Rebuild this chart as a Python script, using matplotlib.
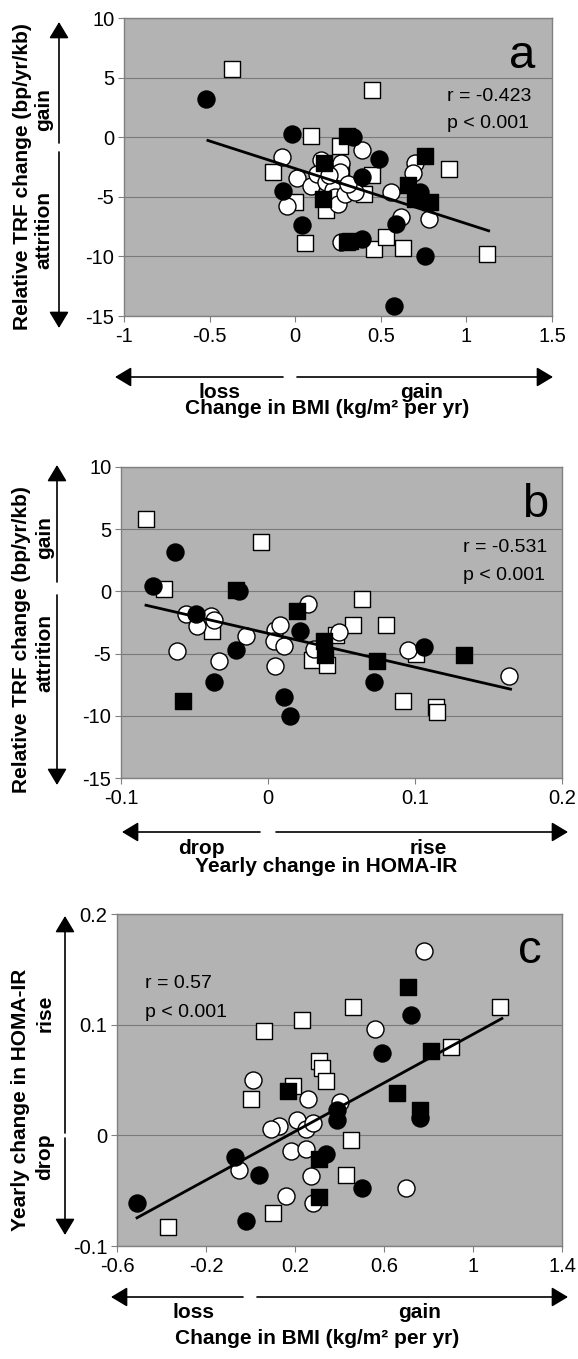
import matplotlib
matplotlib.use('Agg')
import matplotlib.pyplot as plt
from matplotlib.patches import FancyArrowPatch
from matplotlib.ticker import FuncFormatter

plt.rcParams['font.family'] = ['Liberation Sans', 'DejaVu Sans']
plt.rcParams['axes.unicode_minus'] = False

# ---------------- data ----------------
# Panel a: change in BMI (x) vs relative TRF change (y)
a_fc_x = [-0.52, -0.02, -0.07, 0.04, 0.34, 0.49, 0.39, 0.39, 0.59, 0.73, 0.76, 0.58]
a_fc_y = [3.2, 0.3, -4.5, -7.4, 0.0, -1.8, -3.3, -8.5, -7.3, -4.6, -10.0, -14.2]
a_fs_x = [0.30, 0.17, 0.16, 0.30, 0.32, 0.76, 0.66, 0.70, 0.79]
a_fs_y = [0.1, -2.2, -5.2, -8.8, -8.7, -1.6, -4.0, -5.2, -5.4]
a_os_x = [-0.37, 0.45, 0.09, -0.13, 0.26, 0.45, 0.90, 0.00, 0.18, 0.40, 0.06, 0.46, 0.53, 0.63, 1.12, 0.27]
a_os_y = [5.7, 4.0, 0.1, -2.9, -0.7, -3.2, -2.7, -5.4, -6.1, -4.8, -8.9, -9.4, -8.4, -9.3, -9.8, -2.8]
a_oc_x = [-0.08, 0.01, 0.09, -0.05, 0.15, 0.13, 0.18, 0.27, 0.26, 0.39, 0.22, 0.23, 0.25, 0.29, 0.35,
          0.56, 0.70, 0.69, 0.62, 0.78, 0.27, 0.20, 0.31]
a_oc_y = [-1.7, -3.4, -4.1, -5.8, -1.9, -3.1, -3.8, -2.2, -2.9, -1.1, -4.4, -5.0, -5.6, -4.8, -4.6,
          -4.6, -2.2, -3.0, -6.7, -6.9, -8.8, -3.2, -3.9]
a_trend = (-4.62, -2.63, -0.51, 1.13)   # slope, intercept, x start, x end
a_stats = ['r = -0.423', 'p < 0.001']

# Panel b: yearly change in HOMA-IR (x) vs relative TRF change (y)
b_fc_x = [-0.063, -0.078, -0.049, -0.020, -0.022, -0.037, 0.022, 0.011, 0.015, 0.072, 0.106]
b_fc_y = [3.2, 0.4, -1.8, 0.0, -4.7, -7.3, -3.2, -8.5, -10.0, -7.3, -4.5]
b_fs_x = [-0.058, -0.022, 0.020, 0.038, 0.039, 0.074, 0.133]
b_fs_y = [-8.8, 0.1, -1.6, -4.0, -5.1, -5.6, -5.1]
b_os_x = [-0.083, -0.071, -0.038, -0.005, 0.030, 0.040, 0.046, 0.058, 0.064, 0.080, 0.092, 0.101, 0.114, 0.115]
b_os_y = [5.8, 0.2, -3.2, 4.0, -5.5, -5.9, -3.5, -2.7, -0.6, -2.7, -8.8, -5.0, -9.3, -9.7]
b_oc_x = [-0.062, -0.056, -0.048, -0.039, -0.033, -0.015, 0.005, 0.004, 0.008, 0.011, 0.005, 0.027,
          0.031, 0.048, 0.095, 0.164, -0.037]
b_oc_y = [-4.8, -1.8, -2.8, -2.0, -5.6, -3.6, -3.1, -4.0, -2.7, -4.4, -6.0, -1.0,
          -4.6, -3.3, -4.7, -6.8, -2.3]
b_trend = (-27.2, -3.37, -0.083, 0.165)
b_stats = ['r = -0.531', 'p < 0.001']

# Panel c: change in BMI (x) vs yearly change in HOMA-IR (y)
c_fc_x = [-0.51, -0.07, 0.04, -0.02, 0.39, 0.39, 0.34, 0.50, 0.59, 0.72, 0.76]
c_fc_y = [-0.061, -0.020, -0.036, -0.077, 0.023, 0.014, -0.017, -0.048, 0.074, 0.109, 0.016]
c_fs_x = [0.71, 0.81, 0.66, 0.76, 0.17, 0.31, 0.31]
c_fs_y = [0.134, 0.076, 0.038, 0.023, 0.040, -0.021, -0.056]
c_os_x = [-0.37, 0.06, 0.23, 0.46, 1.12, 0.90, 0.31, 0.32, 0.34, 0.19, 0.00, 0.45, 0.43, 0.10]
c_os_y = [-0.083, 0.094, 0.104, 0.116, 0.116, 0.080, 0.067, 0.061, 0.049, 0.045, 0.033, -0.004, -0.036, -0.070]
c_oc_x = [0.01, 0.56, 0.78, 0.26, 0.40, 0.21, 0.13, 0.09, 0.25, 0.28, 0.18, 0.25, -0.05, 0.27, 0.16, 0.28, 0.70]
c_oc_y = [0.050, 0.096, 0.167, 0.033, 0.030, 0.014, 0.008, 0.006, 0.006, 0.011, -0.014, -0.012,
          -0.031, -0.037, -0.055, -0.061, -0.048]
c_trend = (0.1098, -0.0185, -0.51, 1.13)
c_stats = ['r = 0.57', 'p < 0.001']

a_xticks = [-1, -0.5, 0, 0.5, 1, 1.5]
b_xticks = [-0.1, 0, 0.1, 0.2]
c_xticks = [-0.6, -0.2, 0.2, 0.6, 1, 1.4]
trf_yticks = [-15, -10, -5, 0, 5, 10]
homa_yticks = [-0.1, 0, 0.1, 0.2]

# ---------------- figure ----------------
W, H = 578, 1359
fig = plt.figure(figsize=(W / 100, H / 100), dpi=100)
BG = '#b3b3b3'
TICK_FS = 14.5
LAB_FS = 15


def fx(px):
    return px / W


def fy(py):
    return 1 - py / H


def rect(l, t, r, b):
    return [l / W, 1 - b / H, (r - l) / W, (b - t) / H]


def fmt(v, pos):
    return f'{v:g}'


def panel(r, oc, os_, fc, fs, trend, xticks, yticks, letter, stats, stat_x, stat_y, letter_xy):
    ax = fig.add_axes(r)
    ax.set_facecolor(BG)
    for s in ax.spines.values():
        s.set_color('#808080')
        s.set_linewidth(1.0)
    ax.set_xlim(xticks[0], xticks[-1])
    ax.set_ylim(yticks[0], yticks[-1])
    ax.set_xticks(xticks)
    ax.set_yticks(yticks)
    ax.xaxis.set_major_formatter(FuncFormatter(fmt))
    ax.yaxis.set_major_formatter(FuncFormatter(fmt))
    ax.tick_params(axis='both', direction='out', length=4, width=0.8, color='#808080',
                   labelsize=TICK_FS, labelcolor='black')
    ax.tick_params(axis='x', pad=4)
    ax.tick_params(axis='y', pad=3)
    ax.yaxis.grid(True, color='#7a7a7a', lw=0.8)
    ax.set_axisbelow(True)
    kw = dict(edgecolors='black', linewidths=1.0, zorder=3)
    ax.scatter(os_[0], os_[1], marker='s', s=118, facecolors='white', **kw)
    ax.scatter(oc[0], oc[1], marker='o', s=150, facecolors='white', **kw)
    ax.scatter(fc[0], fc[1], marker='o', s=150, facecolors='black', **kw)
    ax.scatter(fs[0], fs[1], marker='s', s=118, facecolors='black', **kw)
    m, b0, x0, x1 = trend
    ax.plot([x0, x1], [m * x0 + b0, m * x1 + b0], color='black', lw=2.0, zorder=4)
    ax.text(letter_xy[0], letter_xy[1], letter, transform=ax.transAxes, ha='right',
            va='baseline', fontsize=34, zorder=5)
    ax.text(stat_x, stat_y[0], stats[0], transform=ax.transAxes, ha='left', va='baseline',
            fontsize=14, zorder=5)
    ax.text(stat_x, stat_y[1], stats[1], transform=ax.transAxes, ha='left', va='baseline',
            fontsize=14, zorder=5)
    return ax


panel(rect(124, 18, 552, 316), (a_oc_x, a_oc_y), (a_os_x, a_os_y), (a_fc_x, a_fc_y),
      (a_fs_x, a_fs_y), a_trend, a_xticks, trf_yticks, 'a', a_stats, 0.755, (0.721, 0.631),
      (0.96, 0.832))
panel(rect(121, 467, 562, 778), (b_oc_x, b_oc_y), (b_os_x, b_os_y), (b_fc_x, b_fc_y),
      (b_fs_x, b_fs_y), b_trend, b_xticks, trf_yticks, 'b', b_stats, 0.776, (0.727, 0.637),
      (0.968, 0.839))
panel(rect(117, 914, 562, 1246), (c_oc_x, c_oc_y), (c_os_x, c_os_y), (c_fc_x, c_fc_y),
      (c_fs_x, c_fs_y), c_trend, c_xticks, homa_yticks, 'c', c_stats, 0.063, (0.777, 0.690),
      (0.955, 0.852))


def arrow(x0, y0, x1, y1):
    fig.add_artist(FancyArrowPatch((fx(x0), fy(y0)), (fx(x1), fy(y1)), transform=fig.transFigure,
                                   arrowstyle='-|>,head_length=1.0,head_width=0.6', mutation_scale=10,
                                   lw=1.2, color='black', shrinkA=0, shrinkB=0))


def txt(x, y, s, rot=0, size=LAB_FS):
    fig.text(fx(x), fy(y), s, rotation=rot, ha='center', va='center', fontsize=size,
             fontweight='bold')


# panel a annotations
arrow(59, 143, 59, 22)
arrow(59, 152, 59, 328)
txt(44, 110, 'gain', 90)
txt(44, 230, 'attrition', 90)
txt(23, 177, 'Relative TRF change (bp/yr/kb)', 90)
arrow(283, 377, 115, 377)
arrow(297, 377, 553, 377)
txt(220, 392, 'loss')
txt(422, 392, 'gain')
txt(327, 409, 'Change in BMI (kg/m² per yr)')

# panel b annotations
arrow(57, 582, 57, 465)
arrow(57, 595, 57, 785)
txt(45, 538, 'gain', 90)
txt(45, 653, 'attrition', 90)
txt(22, 640, 'Relative TRF change (bp/yr/kb)', 90)
arrow(260, 832, 122, 832)
arrow(276, 832, 568, 832)
txt(201, 848, 'drop')
txt(428, 848, 'rise')
txt(326, 867, 'Yearly change in HOMA-IR')

# panel c annotations
arrow(65, 1133, 65, 916)
arrow(65, 1138, 65, 1235)
txt(45, 1013, 'rise', 90)
txt(45, 1157, 'drop', 90)
txt(21, 1100, 'Yearly change in HOMA-IR', 90)
arrow(243, 1297, 111, 1297)
arrow(257, 1297, 568, 1297)
txt(194, 1313, 'loss')
txt(420, 1313, 'gain')
txt(317, 1338, 'Change in BMI (kg/m² per yr)')

fig.savefig('out.png', dpi=100, facecolor='white')
